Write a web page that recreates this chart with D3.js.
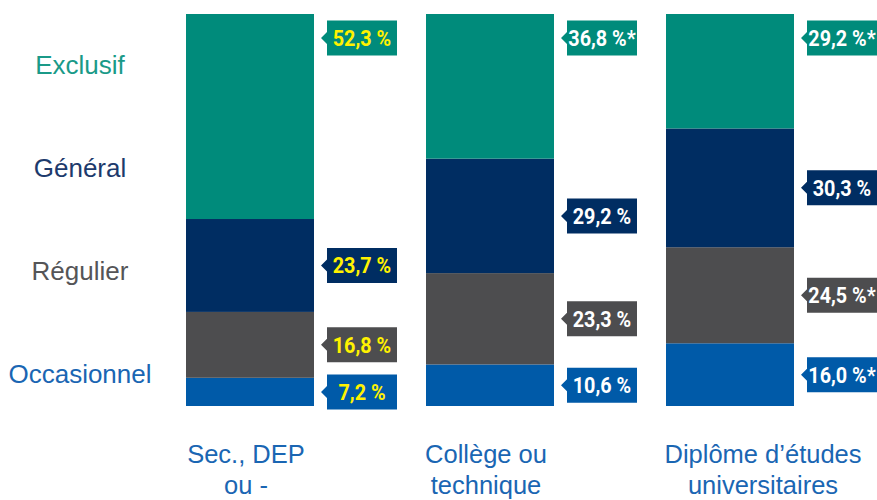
<!DOCTYPE html>
<html>
<head>
<meta charset="utf-8">
<script src="https://cdn.jsdelivr.net/npm/d3@7"></script>
<style>
  body { margin: 0; background: #fff; }
  svg { display: block; }
</style>
</head>
<body>
<div id="chart"></div>
<script>
// data
const groups = ['Sec., DEP|ou -', 'Collège ou|technique', 'Diplôme d’études|universitaires'];
const categories = ['Exclusif', 'Général', 'Régulier', 'Occasionnel'];
const exclusif = [52.3, 36.8, 29.2];
const general = [23.7, 29.2, 30.3];
const regulier = [16.8, 23.3, 24.5];
const occasionnel = [7.2, 10.6, 16.0];
const suffixExc = [' %', ' %*', ' %*'];
const suffixGen = [' %', ' %', ' %'];
const suffixReg = [' %', ' %', ' %*'];
const suffixOcc = [' %', ' %', ' %*'];

const width = 877, height = 500;
const colors = { 'Exclusif': '#008b7b', 'Général': '#002d62', 'Régulier': '#4d4d4f', 'Occasionnel': '#005aa8' };
const legendColors = { 'Exclusif': '#1a9a88', 'Général': '#1d3a6c', 'Régulier': '#555557', 'Occasionnel': '#1a66b3' };

const svg = d3.select('#chart')
  .append('svg')
  .attr('width', width)
  .attr('height', height);

const x = d3.scaleBand()
  .domain(groups)
  .range([186, 794])
  .paddingInner(112 / 240)
  .paddingOuter(0);

const y = d3.scaleLinear().domain([0, 100]).range([406, 14]);

const rows = groups.map((g, i) => ({
  group: g,
  'Occasionnel': occasionnel[i],
  'Régulier': regulier[i],
  'Général': general[i],
  'Exclusif': exclusif[i]
}));
const suffixes = { 'Exclusif': suffixExc, 'Général': suffixGen, 'Régulier': suffixReg, 'Occasionnel': suffixOcc };

const series = d3.stack().keys(['Occasionnel', 'Régulier', 'Général', 'Exclusif'])(rows);

// bars (top segment runs to the top of the bar)
svg.selectAll('g.layer')
  .data(series)
  .enter()
  .append('g')
  .attr('class', 'layer')
  .attr('fill', (d) => colors[d.key])
  .selectAll('rect')
  .data((d) => d.map((p) => Object.assign(p, { key: d.key })))
  .enter()
  .append('rect')
  .attr('x', (d) => x(d.data.group))
  .attr('y', (d) => (d.key === 'Exclusif' ? y(100) : y(d[1])))
  .attr('width', x.bandwidth())
  .attr('height', (d) => y(d[0]) - (d.key === 'Exclusif' ? y(100) : y(d[1])));

// value callouts
const boxW = 70, boxH = 35;
series.forEach((s) => {
  s.forEach((d, i) => {
    const bx = x(d.data.group) + x.bandwidth() + 13;
    const cy = s.key === 'Exclusif' ? y(100) + 24 : (y(d[0]) + y(d[1])) / 2;
    const g = svg.append('g').attr('transform', `translate(${bx},${cy})`);
    g.append('path')
      .attr('d', `M0,${-boxH / 2}H${boxW}V${boxH / 2}H0V6L-6,0L0,-6Z`)
      .attr('fill', colors[s.key]);
    g.append('text')
      .attr('transform', `translate(${boxW / 2},0) scale(0.9,1)`)
      .attr('dy', '0.36em')
      .attr('text-anchor', 'middle')
      .attr('font-family', 'Roboto, sans-serif')
      .attr('font-weight', 700)
      .attr('font-size', 22)
      .attr('fill', i === 0 ? '#fff200' : '#ffffff')
      .text(d3.format('.1f')(d.data[s.key]).replace('.', ',') + suffixes[s.key][i]);
  });
});

// legend on left
const ly = d3.scalePoint().domain(categories).range([65, 374]);
svg.selectAll('text.legend')
  .data(categories)
  .enter()
  .append('text')
  .attr('class', 'legend')
  .attr('x', 80)
  .attr('y', (d) => ly(d))
  .attr('dy', '0.36em')
  .attr('text-anchor', 'middle')
  .attr('font-family', '"Liberation Sans", Arial, sans-serif')
  .attr('font-size', 26)
  .attr('fill', (d) => legendColors[d])
  .text((d) => d);

// group labels below
const gl = svg.selectAll('text.group')
  .data(groups)
  .enter()
  .append('text')
  .attr('class', 'group')
  .attr('x', (d, i) => x(d) + x.bandwidth() / 2 + (i === 2 ? 33 : -4))
  .attr('y', 463)
  .attr('text-anchor', 'middle')
  .attr('font-family', '"Liberation Sans", Arial, sans-serif')
  .attr('font-size', 25.5)
  .attr('fill', '#1a66b3');

gl.selectAll('tspan')
  .data((d) => d.split('|'))
  .enter()
  .append('tspan')
  .attr('x', function () { return d3.select(this.parentNode).attr('x'); })
  .attr('dy', (d, j) => (j === 0 ? 0 : 31))
  .text((d) => d);
</script>
</body>
</html>
